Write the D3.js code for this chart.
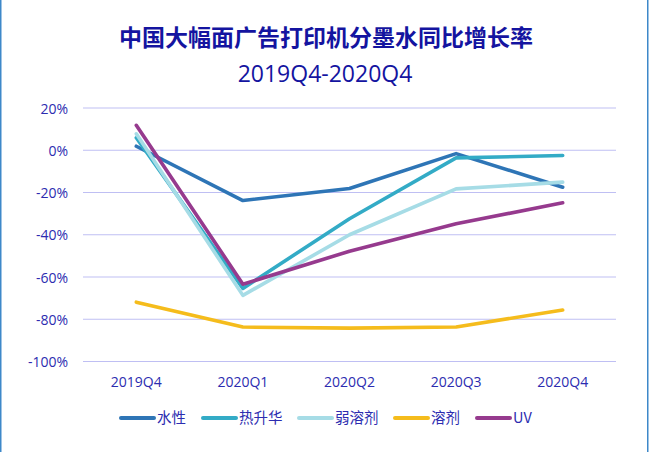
<!DOCTYPE html>
<html><head><meta charset="utf-8">
<script src="https://cdn.jsdelivr.net/npm/d3@7"></script>
<style>
html,body{margin:0;padding:0;background:#fff;}
svg{display:block;}
</style></head>
<body>
<svg id="chart" width="650" height="452"></svg>
<script>
const categories = ["2019Q4","2020Q1","2020Q2","2020Q3","2020Q4"];
const seriesNames = ["水性","热升华","弱溶剂","溶剂","UV"];
const seriesColors = ["#2E75B6","#33ABC6","#A6DCE6","#F5BC1C","#963A8E"];
const waterBased = [1.9, -23.8, -18.1, -1.6, -17.5];
const sublimation = [5.9, -65.4, -32.4, -3.6, -2.5];
const ecoSolvent = [7.8, -68.7, -40.0, -18.3, -15.1];
const solvent = [-71.9, -83.7, -84.2, -83.7, -75.6];
const uv = [11.8, -63.4, -47.8, -34.8, -24.9];
const yTicks = [20, 0, -20, -40, -60, -80, -100];
const title = "中国大幅面广告打印机分墨水同比增长率";
const subtitle = "2019Q4-2020Q4";

const seriesValues = [waterBased, sublimation, ecoSolvent, solvent, uv];
const textColor = "#2C2CB0";
const svg = d3.select("#chart");
const W = 650, H = 452;
const margin = {left: 83, right: 34, top: 108, bottom: 90};

// frame
svg.append("rect").attr("x",0.75).attr("y",-2).attr("width",W-3).attr("height",H+4)
  .attr("fill","none").attr("stroke","#3D88C9").attr("stroke-width",1.5);

svg.append("text").attr("x",326).attr("y",46).attr("text-anchor","middle")
  .attr("font-family","'Noto Sans CJK SC'").attr("font-weight","bold")
  .attr("font-size",23).attr("fill","#1414A0").text(title);
svg.append("text").attr("x",325).attr("y",82).attr("text-anchor","middle")
  .attr("font-family","'Open Sans','Noto Sans'")
  .attr("font-size",23).attr("fill","#1414A0").text(subtitle);

const x = d3.scaleBand().domain(categories).range([margin.left, W - margin.right]);
const y = d3.scaleLinear().domain([-100, 20]).range([361.5, 108]);

const grid = svg.append("g");
grid.selectAll("line").data(yTicks).join("line")
  .attr("x1", margin.left).attr("x2", W - margin.right)
  .attr("y1", d => y(d)).attr("y2", d => y(d))
  .attr("stroke","#BFBFF3").attr("stroke-width",1.2);

const yAxis = svg.append("g").attr("transform",`translate(${margin.left-15},0)`)
  .call(d3.axisLeft(y).tickValues(yTicks).tickSize(0).tickPadding(0).tickFormat(d => d + "%"));
yAxis.select(".domain").remove();
yAxis.selectAll("text").attr("font-family","'Open Sans','Noto Sans'").attr("font-size",14)
  .attr("fill",textColor).attr("dy","0.36em");

const xAxis = svg.append("g").attr("transform",`translate(0,${377})`)
  .call(d3.axisBottom(x).tickSize(0).tickPadding(0));
xAxis.select(".domain").remove();
xAxis.selectAll("text").attr("font-family","'Open Sans','Noto Sans'").attr("font-size",14)
  .attr("fill",textColor).attr("dy","0.71em");

const line = d3.line().x((d,i) => x(categories[i]) + x.bandwidth()/2).y(d => y(d));
svg.append("g").selectAll("path").data(seriesValues).join("path")
  .attr("d", d => line(d)).attr("fill","none")
  .attr("stroke",(d,i) => seriesColors[i]).attr("stroke-width",3.6)
  .attr("stroke-linejoin","round").attr("stroke-linecap","round");

// legend
const legendX = [121, 203, 299, 395, 477];
const lg = svg.append("g").selectAll("g").data(seriesNames).join("g")
  .attr("transform",(d,i) => `translate(${legendX[i]},418)`);
lg.append("line").attr("x1",0).attr("x2",33).attr("y1",0).attr("y2",0)
  .attr("stroke",(d,i) => seriesColors[i]).attr("stroke-width",4).attr("stroke-linecap","round");
lg.append("text").attr("x",36).attr("y",0).attr("dy","0.36em")
  .attr("font-family","'Noto Sans CJK SC'").attr("font-size",14.5)
  .attr("fill",textColor).text(d => d);
</script>
</body></html>
